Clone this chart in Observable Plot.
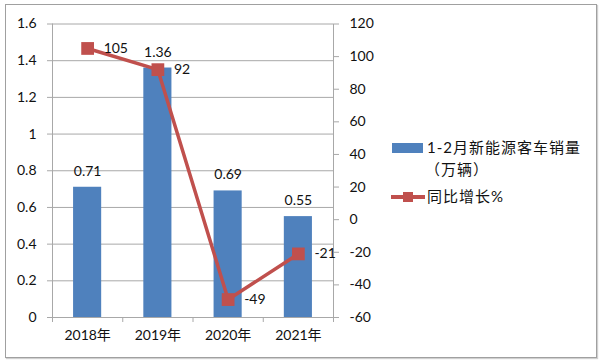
<!DOCTYPE html>
<html>
<head>
<meta charset="utf-8">
<script src="https://cdn.jsdelivr.net/npm/d3@7"></script>
<script src="https://cdn.jsdelivr.net/npm/@observablehq/plot@0.6"></script>
<style>
  html, body { margin: 0; padding: 0; background: #fff; }
  #wrap { position: relative; width: 600px; height: 364px; font-family: Lato, "Noto Sans CJK SC", sans-serif; color: #111; }
  #wrap svg { position: absolute; left: 0; top: 0; }
  #border { position: absolute; left: 5px; top: 4px; width: 590px; height: 352px; border: 1px solid #a0a0a0; box-shadow: 1px 1px 1px #d0d0d0; pointer-events: none; }
  .leg { position: absolute; font-size: 15px; white-space: nowrap; letter-spacing: 1px; line-height: 1; }
</style>
</head>
<body>
<div id="wrap">
  <div id="border"></div>
</div>
<script>
const years = ["2018年", "2019年", "2020年", "2021年"];
const sales = [0.71, 1.36, 0.69, 0.55];
const growth = [105, 92, -49, -21];
const leftTicks = [0, 0.2, 0.4, 0.6, 0.8, 1.0, 1.2, 1.4, 1.6];
const rightTicks = [-60, -40, -20, 0, 20, 40, 60, 80, 100, 120];
const seriesNames = ["1-2月新能源客车销量", "（万辆）", "同比增长%"];

const rMin = -60, rMax = 120, lMax = 1.6;
const toLeft = v => (v - rMin) / (rMax - rMin) * lMax;
const fromLeft = d => Math.round(d / lMax * (rMax - rMin) + rMin);

const data = years.map((y, i) => ({i, year: y, sales: sales[i], growth: growth[i]}));
const barColor = "#4F81BD", lineColor = "#C0504D", grid = "#a8a8a8";

const chart = Plot.plot({
  width: 600,
  height: 364,
  marginLeft: 52,
  marginRight: 267,
  marginTop: 23.5,
  marginBottom: 47,
  x: {domain: [0, years.length], axis: null},
  y: {domain: [0, lMax], axis: null},
  style: {fontFamily: 'Lato, "Noto Sans CJK SC", sans-serif', fontSize: "14px", color: "#111", background: "transparent"},
  marks: [
    Plot.ruleY(leftTicks, {stroke: grid, strokeWidth: 1}),
    Plot.ruleX([0, years.length], {stroke: grid, strokeWidth: 1}),
    Plot.axisY({ticks: leftTicks, tickSize: 5, tickPadding: 11, stroke: grid, label: null, tickFormat: d => String(+d.toFixed(1))}),
    Plot.axisY(rightTicks.map(toLeft), {anchor: "right", tickSize: 5, tickPadding: 11, stroke: grid, label: null, tickFormat: fromLeft}),
    Plot.axisX(d3.range(years.length + 1), {tickSize: 5, stroke: grid, label: null, tickFormat: () => ""}),
    Plot.axisX(data.map(d => d.i + 0.5), {tickSize: 0, tickPadding: 13, label: null, tickFormat: d => years[Math.floor(d)]}),
    Plot.rectY(data, {x1: d => d.i + 0.3, x2: d => d.i + 0.7, y: "sales", fill: barColor}),
    Plot.text(data, {x: d => d.i + 0.5, y: "sales", text: d => d.sales.toFixed(2), dy: -16, fill: "#111"}),
    Plot.line(data, {x: d => d.i + 0.5, y: d => toLeft(d.growth), stroke: lineColor, strokeWidth: 3.5}),
    Plot.dot(data, {x: d => d.i + 0.5, y: d => toLeft(d.growth), symbol: "square", r: 7.2, fill: lineColor, stroke: "none"}),
    Plot.text(data, {x: d => d.i + 0.5, y: d => toLeft(d.growth), text: d => String(d.growth), dx: 16, textAnchor: "start", fill: "#111"})
  ]
});

const wrap = document.getElementById("wrap");
wrap.insertBefore(chart, wrap.firstChild);

function addEl(css, text, cls) {
  const el = document.createElement("div");
  if (cls) el.className = cls;
  el.style.cssText = css;
  if (text) el.textContent = text;
  wrap.appendChild(el);
  return el;
}
// legend: bar swatch
addEl(`position:absolute;left:392px;top:143px;width:31px;height:10px;background:${barColor};`);
addEl("left:427px;top:140px;", seriesNames[0], "leg");
addEl("left:425px;top:162px;", seriesNames[1], "leg");
// legend: line swatch
addEl(`position:absolute;left:391px;top:195px;width:34px;height:4px;background:${lineColor};`);
addEl(`position:absolute;left:403px;top:192px;width:10px;height:10px;background:${lineColor};`);
addEl("left:427px;top:189px;", seriesNames[2], "leg");
</script>
</body>
</html>
